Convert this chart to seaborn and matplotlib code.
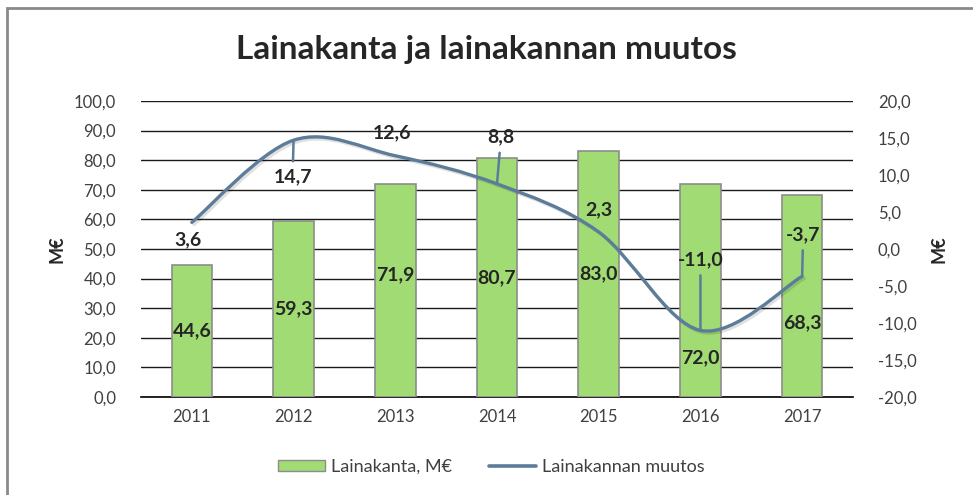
import numpy as np
import pandas as pd
import matplotlib
matplotlib.use("Agg")
import matplotlib.pyplot as plt
import matplotlib.patheffects as pe
from matplotlib.path import Path
from matplotlib.patches import PathPatch, Rectangle, Patch
from matplotlib.lines import Line2D
import seaborn as sns

YEARS = ["2011", "2012", "2013", "2014", "2015", "2016", "2017"]
LAINAKANTA = [44.6, 59.3, 71.9, 80.7, 83.0, 72.0, 68.3]
MUUTOS = [3.6, 14.7, 12.6, 8.8, 2.3, -11.0, -3.7]

BAR_COLOR = "#a0dc73"
LINE_COLOR = "#5d7c99"
TICK_COLOR = "#404040"

# label offsets (pixels) -- hand placed like the original excel chart
BAR_LABEL_SHIFT = [0, 0, 16, 0, 0, -67, -27]
LINE_LABEL_OFFSET = [(-4, -17), (-1, -37), (-3, 23), (4, 47), (0, 22), (0, 71), (1, 42)]
LINE_LEADER = [False, True, False, True, False, True, True]

sns.set_style("white")
plt.rcParams["font.family"] = ["Lato", "DejaVu Sans"]

df = pd.DataFrame({"year": YEARS, "lainakanta": LAINAKANTA, "muutos": MUUTOS})

fig = plt.figure(figsize=(9.73, 4.95), dpi=100)
ax = fig.add_axes([141 / 973, 98 / 495, 712 / 973, 296 / 495])

sns.barplot(data=df, x="year", y="lainakanta", color=BAR_COLOR, width=0.4,
            edgecolor="#8c8c8c", linewidth=1.2, saturation=1, ax=ax, zorder=3)
ax.set_ylim(0, 100)
ax.set_yticks(np.arange(0, 101, 10))
ax.set_yticklabels([f"{v:.1f}".replace(".", ",") for v in np.arange(0, 101, 10)])
ax.set_xlim(-0.5, len(YEARS) - 0.5)
ax.yaxis.grid(True, color="#1a1a1a", linewidth=1.0, zorder=0)
ax.set_axisbelow(True)
for s in ["left", "right", "top"]:
    ax.spines[s].set_visible(False)
ax.spines["bottom"].set_color("black")
ax.spines["bottom"].set_linewidth(1.2)
ax.tick_params(axis="both", length=0, labelsize=12, colors=TICK_COLOR, pad=18)
ax.tick_params(axis="x", pad=9)
ax.set_xlabel("")
ax.set_ylabel("M€", fontsize=13, fontweight="bold", labelpad=6)

for i, v in enumerate(LAINAKANTA):
    ax.annotate(f"{v:.1f}".replace(".", ","), (i, v / 2), xytext=(0, BAR_LABEL_SHIFT[i]),
                textcoords="offset pixels", ha="center", va="center",
                fontsize=14, fontweight="bold", zorder=6)

ax2 = ax.twinx()
ax2.set_ylim(-20, 20)
ax2.set_yticks(np.arange(-20, 21, 5))
ax2.set_yticklabels([f"{v:.1f}".replace(".", ",") for v in np.arange(-20, 21, 5)])
for s in ax2.spines.values():
    s.set_visible(False)
ax2.tick_params(axis="y", length=0, labelsize=12, colors=TICK_COLOR, pad=18)
ax2.set_ylabel("M€", fontsize=13, fontweight="bold", labelpad=10, rotation=90)

# smoothed line like excel (catmull-rom bezier through the points)
pts = np.column_stack([np.arange(len(MUUTOS)), MUUTOS]).astype(float)
verts = [pts[0]]
codes = [Path.MOVETO]
n = len(pts)
for i in range(n - 1):
    p0 = pts[i - 1] if i > 0 else pts[i]
    p3 = pts[i + 2] if i + 2 < n else pts[i + 1]
    verts += [pts[i] + (pts[i + 1] - p0) / 6, pts[i + 1] - (p3 - pts[i]) / 6, pts[i + 1]]
    codes += [Path.CURVE4] * 3
curve = PathPatch(Path(verts, codes), facecolor="none", edgecolor=LINE_COLOR, lw=2.4,
                  capstyle="round", zorder=4,
                  path_effects=[pe.SimpleLineShadow(offset=(1.5, -1.5), alpha=0.12), pe.Normal()])
ax2.add_patch(curve)

for i, v in enumerate(MUUTOS):
    dx, dy = LINE_LABEL_OFFSET[i]
    arrow = dict(arrowstyle="-", color=LINE_COLOR, lw=1.8, shrinkA=3, shrinkB=0) if LINE_LEADER[i] else None
    ax2.annotate(f"{v:.1f}".replace(".", ","), (i, v), xytext=(dx, dy),
                 textcoords="offset pixels", ha="center", va="center",
                 fontsize=14, fontweight="bold", arrowprops=arrow, zorder=6)

fig.text(0.5, 1 - 50 / 495, "Lainakanta ja lainakannan muutos", ha="center", va="center",
         fontsize=24, fontweight="bold")

handles = [Patch(facecolor=BAR_COLOR, edgecolor="#8c8c8c", label="Lainakanta, M€"),
           Line2D([0], [0], color=LINE_COLOR, lw=2.6, label="Lainakannan muutos")]
fig.legend(handles=handles, loc="center", bbox_to_anchor=(0.505, 1 - 467 / 495), ncol=2,
           frameon=False, fontsize=13, handlelength=2.6, handleheight=0.6,
           handletextpad=0.35, columnspacing=2.0, labelcolor=TICK_COLOR)

fig.patches.append(Rectangle((7 / 973, -0.1), 1.2, 1.1 - 8 / 495, transform=fig.transFigure,
                             fill=False, edgecolor="#8a8a8a", lw=2))

fig.savefig("out.png", dpi=100)
